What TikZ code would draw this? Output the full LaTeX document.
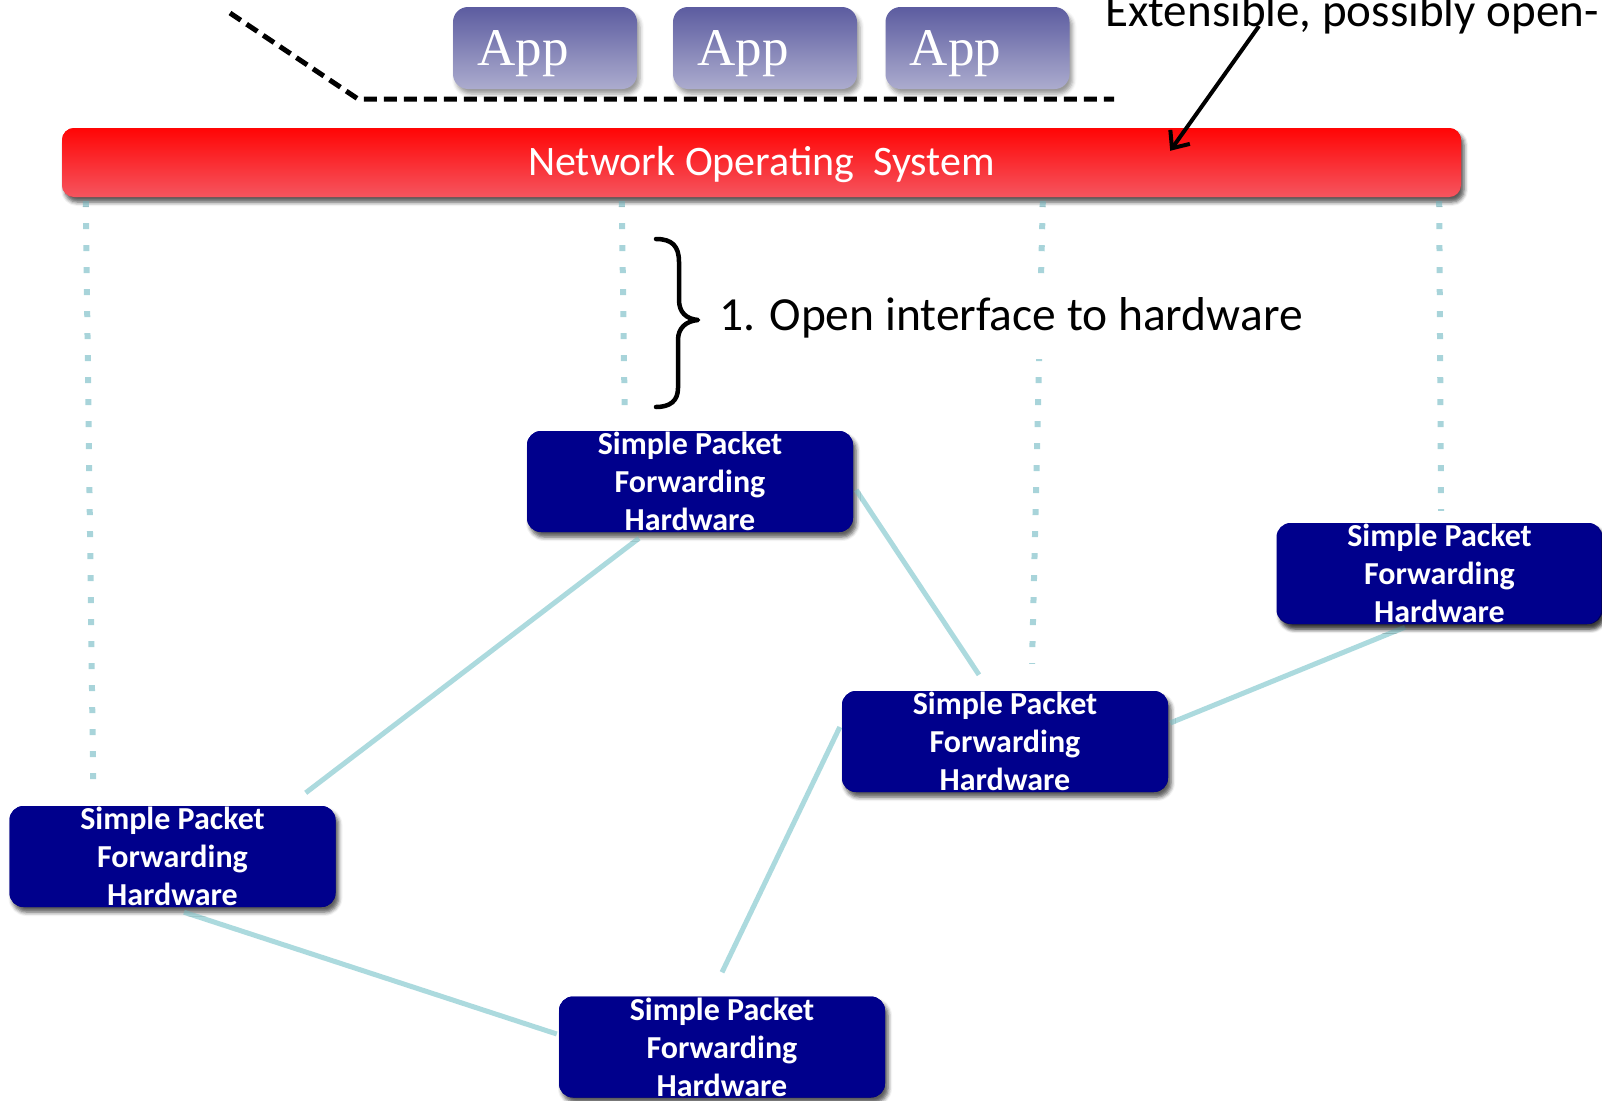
\documentclass[tikz,border=0pt]{standalone}
\usepackage{fontspec}
\setmainfont{Carlito}
\newfontfamily\appfont{Liberation Serif}
\usetikzlibrary{calc,arrows.meta,shadows.blur}

\definecolor{navybox}{RGB}{0,0,140}
\definecolor{linkcol}{RGB}{172,218,222}
\definecolor{dotcol}{RGB}{168,212,218}
\definecolor{nostop}{RGB}{255,5,5}
\definecolor{nosbot}{RGB}{245,85,95}
\definecolor{apptop}{RGB}{92,92,160}
\definecolor{appbot}{RGB}{172,172,206}

\begin{document}
\begin{tikzpicture}[x=1pt,y=-1pt,
  softshadow/.style={blur shadow={shadow xshift=3pt, shadow yshift=-5pt,
      shadow blur radius=4pt, shadow opacity=40}},
  hwbox/.style={fill=navybox, rounded corners=14pt, minimum width=326pt,
      minimum height=101pt, inner sep=0pt, align=center, text=white,
      font=\fontsize{32}{38}\selectfont\bfseries, softshadow},
  appbox/.style={rounded corners=15pt, minimum width=184pt, minimum height=82pt,
      top color=apptop, bottom color=appbot, inner sep=0pt, softshadow},
  apptext/.style={text=white, inner sep=0pt, font=\appfont\fontsize{53}{60}\selectfont},
  nosbar/.style={rounded corners=12pt, minimum width=1399pt, minimum height=69pt,
      top color=nostop, bottom color=nosbot, inner sep=0pt, softshadow},
  nostext/.style={text=white, inner sep=0pt, font=\fontsize{42}{48}\selectfont},
  dotline/.style={draw=dotcol, line width=6pt, dash pattern=on 6pt off 16pt},
  hwlink/.style={draw=linkcol, line width=5pt},
  apiline/.style={draw=black, line width=5pt, dash pattern=on 13pt off 7pt},
  labeltext/.style={text=black}
]
\useasboundingbox (0,0) rectangle (1602,1100);
\clip (0,0) rectangle (1602,1100);

% switch boxes (drawn first so the links can be placed by their anchors)
\node[nosbar] (nos) at (761.5,162.5) {};
\node[hwbox] (b1) at (690,481.5)   {};
\node[hwbox, minimum width=323pt] (b2) at (1439.5,573.5) {};
\node[hwbox] (b3) at (1005,741.5)  {};
\node[hwbox] (b4) at (172.5,856.5) {};
\node[hwbox] (b5) at (722,1047)    {};

% control channels from the operating system down to the switches
\draw[dotline] ($(nos.south west)+(24,4)$) -- ($(b4.north west)+(84,-14)$);
\draw[dotline] ($(nos.south west)+(560,4)$) -- ($(b1.north west)+(98,-10)$);
\draw[dotline] ($(nos.south west)+(981,4)$) -- ($(b3.north)+(27,-27)$);
\draw[dotline] ($(nos.south east)+(-22,4)$) -- ($(b2.north)+(1.5,-12)$);

% physical links between the switches
\draw[hwlink] ($(b1.south)+(-51,6)$)  -- ($(b4.north east)+(-30,-13)$);
\draw[hwlink] ($(b1.east)+(3,8.5)$)   -- ($(b3.north)+(-26,-16)$);
\draw[hwlink] ($(b3.west)+(-2,-14.5)$) -- ($(b5.north)+(0,-24)$);
\draw[hwlink] ($(b3.east)+(2,-18.5)$) -- ($(b2.south)+(-34.5,3)$);
\draw[hwlink] ($(b4.south)+(11.5,5)$) -- ($(b5.west)+(-2,-13)$);

% boxes with their labels, above the links
\foreach \b in {b1,b2,b3,b4,b5}{
  \node[hwbox, minimum width=326pt] at (\b) {Simple Packet\\Forwarding\\Hardware};
}
\node[hwbox, minimum width=323pt] at (b2) {Simple Packet\\Forwarding\\Hardware};
\node[nosbar] at (nos) {};
\node[nostext] (nost) at ($(nos.center)+(0,2)$) {Network Operating\ \ System};

% applications
\node[appbox] (a1) at (545,48)   {};
\node[appbox] (a2) at (765,48)   {};
\node[appbox] (a3) at (977.5,48) {};
\node[apptext] (t1) at ($(a1.center)+(-22,6)$) {App};
\node[apptext] (t2) at ($(a2.center)+(-22,6)$) {App};
\node[apptext] (t3) at ($(a3.center)+(-22,6)$) {App};

% northbound boundary
\coordinate (d0) at (230,13);
\coordinate (d1) at (358,99);
\coordinate (d2) at (1114,99);
\draw[apiline] (d0) -- (d1) -- (d2);

% annotation of the operating system
\node[labeltext, font=\fontsize{47}{54}\selectfont, anchor=base west, inner sep=0pt] (ext)
  at (1105,26) {Extensible, possibly open-};
\draw[line width=4pt, -{Straight Barb[length=14pt,width=24pt,line width=4pt]}]
  ($(ext.base west)+(154,0)$) -- ($(nos.north east)+(-291,23)$);

% interface label with brace
\node[labeltext, font=\fontsize{47.5}{54}\selectfont, fill=white, anchor=west,
  inner xsep=6pt, minimum height=81pt] (oi)
  at (713,318) {1. Open interface to hardware};
\draw[line width=4.5pt, line cap=round, line join=round]
  (656,239) .. controls (672,239) and (679,246) .. (679,262) -- (679,300)
  .. controls (679,312) and (686,319) .. (698,320)
  .. controls (686,321) and (678,328) .. (678,340) -- (678,388)
  .. controls (678,401) and (670,407) .. (656,407);
\end{tikzpicture}
\end{document}
